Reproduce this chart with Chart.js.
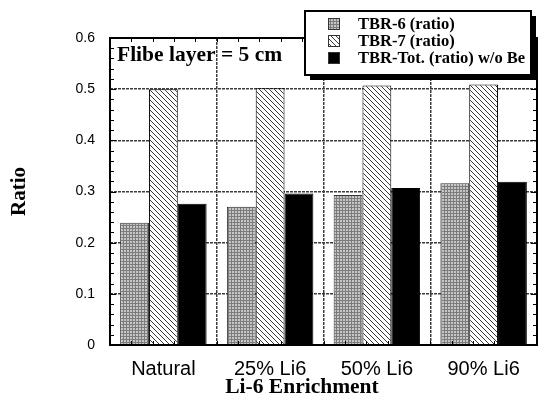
<!DOCTYPE html>
<html>
<head>
<meta charset="utf-8">
<script src="https://cdn.jsdelivr.net/npm/chart.js@4.4.0/dist/chart.umd.min.js"></script>
<style>
  html, body { margin: 0; padding: 0; background: #fff; }
  canvas { display: block; }
</style>
</head>
<body>
<canvas id="chart" width="540" height="398"></canvas>
<script>
// breeding ratios per Li-6 enrichment level
const categories = ['Natural', '25% Li6', '50% Li6', '90% Li6'];
const tbr6 = [0.239, 0.270, 0.293, 0.316];
const tbr7 = [0.500, 0.502, 0.507, 0.509];
const tbrTot = [0.276, 0.296, 0.307, 0.319];
const seriesNames = ['TBR-6 (ratio)', 'TBR-7 (ratio)', 'TBR-Tot. (ratio) w/o Be'];
const yMin = 0, yMax = 0.6, yStep = 0.1, yMinorStep = 0.02;
const noteText = 'Flibe layer = 5 cm';
const xTitle = 'Li-6 Enrichment';
const yTitle = 'Ratio';

const SERIF = "'Liberation Serif', 'Times New Roman', serif";
const SANS = "'Liberation Sans', Arial, Helvetica, sans-serif";

const canvas = document.getElementById('chart');
const ctx = canvas.getContext('2d');

function makePattern(size, paint) {
  const c = document.createElement('canvas');
  c.width = c.height = size;
  paint(c.getContext('2d'), size);
  return ctx.createPattern(c, 'repeat');
}

// fine gray stipple
const stipple = makePattern(3, (g) => {
  g.fillStyle = '#c6c6c6';
  g.fillRect(0, 0, 3, 3);
  g.fillStyle = '#7c7c7c';
  g.fillRect(0, 0, 3, 1);
  g.fillRect(0, 0, 1, 3);
});

// thin back-slash hatch on white
const hatch = makePattern(5, (g, n) => {
  g.fillStyle = '#fff';
  g.fillRect(0, 0, n, n);
  g.fillStyle = '#3a3a3a';
  for (let i = 0; i < n; i++) g.fillRect(i, i, 1, 1);
});

const fills = [stipple, hatch, '#000'];
const borders = ['#333', '#000', '#000'];

// solid frame, inward tick marks, legend box and annotations
const decorations = {
  id: 'decorations',
  afterDatasetsDraw(chart) {
    const {ctx, chartArea: a} = chart;
    const x = chart.scales.x, y = chart.scales.y;
    ctx.save();
    ctx.strokeStyle = '#000';
    ctx.lineWidth = 1;
    ctx.beginPath();
    for (let v = yMin; v <= yMax + 1e-9; v += yMinorStep) {
      const py = Math.round(y.getPixelForValue(v)) + 0.5;
      const len = Math.abs(v / yStep - Math.round(v / yStep)) < 1e-6 ? 6 : 4;
      ctx.moveTo(a.left, py); ctx.lineTo(a.left + len, py);
      ctx.moveTo(a.right, py); ctx.lineTo(a.right - len, py);
    }
    for (let v = -0.5; v <= categories.length - 0.5 + 1e-9; v += 0.2) {
      const px = Math.round(x.getPixelForValue(v)) + 0.5;
      ctx.moveTo(px, a.bottom); ctx.lineTo(px, a.bottom - 4);
      ctx.moveTo(px, a.top); ctx.lineTo(px, a.top + 4);
    }
    ctx.stroke();
    ctx.lineWidth = 2;
    ctx.strokeRect(a.left, a.top, a.right - a.left, a.bottom - a.top);
    ctx.restore();
  },
  afterDraw(chart) {
    const {ctx, chartArea: a} = chart;
    ctx.save();

    // legend with drop shadow
    const bx = 305, by = 11, bw = 226, bh = 64;
    ctx.fillStyle = '#000';
    ctx.fillRect(bx + 5, by + 5, bw, bh);
    ctx.fillStyle = '#fff';
    ctx.fillRect(bx, by, bw, bh);
    ctx.lineWidth = 2;
    ctx.strokeStyle = '#000';
    ctx.strokeRect(bx, by, bw, bh);

    ctx.font = 'bold 16.5px ' + SERIF;
    ctx.textBaseline = 'middle';
    ctx.textAlign = 'left';
    chart.data.datasets.forEach((ds, i) => {
      const cy = by + 13 + i * 17;
      ctx.fillStyle = ds.backgroundColor;
      ctx.fillRect(328, cy - 6, 12, 12);
      ctx.lineWidth = 1;
      ctx.strokeStyle = '#333';
      ctx.strokeRect(328.5, cy - 5.5, 11, 11);
      ctx.fillStyle = '#000';
      ctx.fillText(ds.label, 358, cy + 1);
    });

    // note inside the plot
    ctx.font = 'bold 21.5px ' + SERIF;
    ctx.fillText(noteText, a.left + 7, a.top + 17);

    // x axis title
    ctx.textAlign = 'center';
    ctx.fillText(xTitle, 302, 387);
    ctx.restore();
  }
};

new Chart(canvas, {
  type: 'bar',
  data: {
    labels: categories,
    datasets: [tbr6, tbr7, tbrTot].map((values, i) => ({
      label: seriesNames[i],
      data: values,
      backgroundColor: fills[i],
      borderColor: borders[i],
      borderWidth: 1,
      categoryPercentage: 0.81,
      barPercentage: 1.0
    }))
  },
  options: {
    responsive: false,
    animation: false,
    layout: { padding: { top: 38, right: 3, bottom: 0, left: 0 } },
    plugins: {
      legend: { display: false },
      tooltip: { enabled: false }
    },
    scales: {
      x: {
        grid: { color: '#3c3c3c', lineWidth: 1.5, drawTicks: false, offset: true },
        border: { display: false, dash: [3, 1] },
        ticks: { color: '#000', padding: 12, font: { family: SANS, size: 20 } },
        afterFit: (s) => { s.height = 53; }
      },
      y: {
        min: yMin,
        max: yMax,
        grid: { color: '#3c3c3c', lineWidth: 1.5, drawTicks: false },
        border: { display: false, dash: [3, 1] },
        ticks: {
          stepSize: yStep,
          color: '#000',
          padding: 15,
          font: { family: SANS, size: 14 },
          callback: (v) => +v.toFixed(1)
        },
        title: {
          display: true,
          text: yTitle,
          color: '#000',
          padding: { top: 7, bottom: 0 },
          font: { family: SERIF, size: 21, weight: 'bold' }
        },
        afterFit: (s) => { s.width = 110; }
      }
    }
  },
  plugins: [decorations]
});
</script>
</body>
</html>
